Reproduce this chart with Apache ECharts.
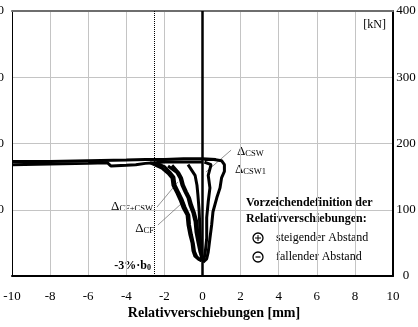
<!DOCTYPE html>
<html>
<head>
<meta charset="utf-8">
<script src="https://cdn.jsdelivr.net/npm/echarts@6/dist/echarts.min.js"></script>
<style>
  html, body { margin: 0; padding: 0; background: #fff; }
  #chart { width: 418px; height: 327px; }
</style>
</head>
<body>
<div id="chart"></div>
<script>
// Achsen
const xTicks = [-10, -8, -6, -4, -2, 0, 2, 4, 6, 8, 10];
const yTicks = [0, 100, 200, 300, 400];

// Messkurven [mm, kN]
const plateauUpper = [[-10, 173], [-8, 173], [-6, 174], [-4, 175], [-3, 176], [-2, 176], [-1, 177], [0, 177], [0.7, 176]];
const plateauLower = [[-10, 168], [-8, 169], [-6, 170], [-5, 171], [-4.8, 166], [-4, 167], [-3.5, 168], [-3, 170], [-2.5, 171], [-2, 172], [-1, 172], [0, 172]];
const cfCswDown = [[-2.76, 171], [-2.13, 163], [-1.81, 155], [-1.6, 148], [-1.55, 137], [-1.34, 125], [-1.18, 115], [-1.02, 103], [-0.81, 92], [-0.76, 77], [-0.66, 62], [-0.55, 50], [-0.5, 38], [-0.4, 30], [-0.2, 25], [-0.05, 23]];
const cfCswUp = [[-0.05, 23], [-0.3, 29], [-0.42, 37], [-0.48, 49], [-0.58, 62], [-0.68, 77], [-0.72, 92], [-0.92, 104], [-1.08, 116], [-1.25, 126], [-1.45, 138], [-1.5, 149], [-1.72, 157], [-2.0, 165], [-2.4, 170]];
const cfDown = [[-1.81, 166], [-1.34, 156], [-1.18, 148], [-1.08, 137], [-0.92, 127], [-0.76, 118], [-0.66, 107], [-0.5, 95], [-0.39, 82], [-0.34, 66], [-0.24, 51], [-0.13, 36], [-0.03, 26]];
const cfUp = [[-0.03, 26], [-0.05, 36], [-0.16, 51], [-0.25, 66], [-0.3, 82], [-0.42, 95], [-0.57, 107], [-0.68, 118], [-0.84, 127], [-1.0, 137], [-1.1, 148], [-1.25, 156], [-1.6, 167]];
const innerCurve = [[-0.76, 168], [-0.39, 152], [-0.29, 137], [-0.24, 122], [-0.18, 100], [-0.13, 69], [-0.08, 39], [0, 24]];
const csw1Up = [[0.03, 21], [0.22, 26], [0.3, 36], [0.39, 57], [0.48, 77], [0.55, 97], [0.75, 118], [0.92, 133], [1.0, 148], [1.15, 158], [1.15, 168], [1.0, 174], [0.6, 176], [0.1, 176]];
const csw1Down = [[0.1, 172], [0.45, 168], [0.3, 152], [0.39, 133], [0.3, 112], [0.22, 88], [0.22, 57], [0.13, 32], [0.03, 21]];

// Hilfslinien
const limitLine = -2.55;
const leaderCsw = [[0.18, 157], [1.5, 190]];
const leaderCfCsw = [[-2.39, 104], [-1.29, 142]];
const leaderCf = [[-2.34, 77], [-1.08, 110]];

const FONT = '"Liberation Serif", "Times New Roman", serif';

function curve (data) {
  return {
    type: 'line',
    data: data,
    showSymbol: false,
    silent: true,
    lineStyle: { color: '#000', width: 3 },
    z: 5
  };
}

function leader (pts) {
  return [{ coord: pts[0] }, { coord: pts[1] }];
}

const myChart = echarts.init(document.getElementById('chart'));

const rich = {
  d: { fontFamily: FONT, fontSize: 13, color: '#000' },
  s: { fontFamily: FONT, fontSize: 8.5, color: '#000', verticalAlign: 'bottom', padding: [4, 0, 0, 0] }
};

const option = {
  animation: false,
  backgroundColor: '#fff',
  grid: { left: 12, right: 25, top: 11, bottom: 51, show: false, containLabel: false, outerBoundsMode: 'none' },
  xAxis: [
    {
      type: 'value',
      min: xTicks[0],
      max: xTicks[xTicks.length - 1],
      interval: 2,
      position: 'bottom',
      axisLine: { show: true, onZero: false, lineStyle: { color: '#000', width: 2 } },
      axisTick: { show: false },
      axisLabel: { fontFamily: FONT, fontSize: 13, color: '#000', margin: 14 },
      splitLine: { show: true, lineStyle: { color: '#c4c4c4', width: 1 } }
    },
    {
      type: 'value',
      min: xTicks[0],
      max: xTicks[xTicks.length - 1],
      position: 'top',
      axisLine: { show: true, onZero: false, lineStyle: { color: '#6e6e6e', width: 2 } },
      axisTick: { show: false },
      axisLabel: { show: false },
      splitLine: { show: false }
    }
  ],
  yAxis: [
    {
      type: 'value',
      min: yTicks[0],
      max: yTicks[yTicks.length - 1],
      interval: 100,
      position: 'left',
      axisLine: { show: true, onZero: false, lineStyle: { color: '#000', width: 1 } },
      axisTick: { show: false },
      axisLabel: {
        fontFamily: FONT, fontSize: 13, color: '#000', margin: 8,
        formatter: function (v) { return v === 0 ? '' : String(v); }
      },
      splitLine: { show: true, lineStyle: { color: '#c4c4c4', width: 1 } }
    },
    {
      type: 'value',
      min: yTicks[0],
      max: yTicks[yTicks.length - 1],
      interval: 100,
      position: 'right',
      axisLine: { show: true, onZero: false, lineStyle: { color: '#000', width: 2 } },
      axisTick: { show: false },
      axisLabel: { fontFamily: FONT, fontSize: 13, color: '#000', margin: 13, align: 'center' },
      splitLine: { show: false }
    }
  ],
  series: [
    {
      type: 'line',
      data: [],
      silent: true,
      markLine: {
        symbol: ['none', 'none'],
        silent: true,
        label: { show: false },
        data: [
          { xAxis: 0, lineStyle: { color: '#000', width: 2.5, type: 'solid' } },
          { xAxis: limitLine, lineStyle: { color: '#000', width: 1, type: [1, 1] } },
          leader(leaderCsw),
          leader(leaderCfCsw),
          leader(leaderCf)
        ],
        lineStyle: { color: '#666', width: 0.7, type: 'solid' }
      },
      z: 4
    },
    curve(plateauUpper),
    curve(plateauLower),
    curve(cfCswDown),
    curve(cfCswUp),
    curve(cfDown),
    curve(cfUp),
    curve(innerCurve),
    curve(csw1Up),
    curve(csw1Down)
  ],
  graphic: [
    { type: 'text', x: 214, y: 313, style: { text: 'Relativverschiebungen [mm]', fontFamily: FONT, fontSize: 14, fontWeight: 'bold', fill: '#000', align: 'center', verticalAlign: 'middle' } },
    { type: 'text', x: 386, y: 25, style: { text: '[kN]', fontFamily: FONT, fontSize: 12, fill: '#000', align: 'right', verticalAlign: 'middle' } },
    { type: 'text', x: 237, y: 152, style: { text: '{d|Δ}{s|CSW}', rich: rich, align: 'left', verticalAlign: 'middle' } },
    { type: 'text', x: 235, y: 170, style: { text: '{d|Δ}{s|CSW1}', rich: rich, align: 'left', verticalAlign: 'middle' } },
    { type: 'text', x: 153, y: 207, style: { text: '{d|Δ}{s|CF+CSW}', rich: rich, align: 'right', verticalAlign: 'middle' } },
    { type: 'text', x: 154, y: 229, style: { text: '{d|Δ}{s|CF}', rich: rich, align: 'right', verticalAlign: 'middle' } },
    {
      type: 'text', x: 151, y: 266,
      style: {
        text: '{t|-3%·b}{s|0}', align: 'right', verticalAlign: 'middle',
        rich: {
          t: { fontFamily: FONT, fontSize: 12, fontWeight: 'bold', color: '#000' },
          s: { fontFamily: FONT, fontSize: 8, fontWeight: 'bold', color: '#000', verticalAlign: 'bottom', padding: [4, 0, 0, 0] }
        }
      }
    },
    { type: 'text', x: 246, y: 203, style: { text: 'Vorzeichendefinition der', fontFamily: FONT, fontSize: 12, fontWeight: 'bold', fill: '#000', verticalAlign: 'middle' } },
    { type: 'text', x: 246, y: 219, style: { text: 'Relativverschiebungen:', fontFamily: FONT, fontSize: 12, fontWeight: 'bold', fill: '#000', verticalAlign: 'middle' } },
    { type: 'circle', shape: { cx: 258, cy: 238, r: 5 }, style: { fill: 'none', stroke: '#000', lineWidth: 1.3 } },
    { type: 'line', shape: { x1: 255, y1: 238, x2: 261, y2: 238 }, style: { stroke: '#000', lineWidth: 1 } },
    { type: 'line', shape: { x1: 258, y1: 235, x2: 258, y2: 241 }, style: { stroke: '#000', lineWidth: 1 } },
    { type: 'text', x: 276, y: 238, style: { text: 'steigender Abstand', fontFamily: FONT, fontSize: 12, fill: '#000', verticalAlign: 'middle' } },
    { type: 'circle', shape: { cx: 258, cy: 257, r: 5 }, style: { fill: 'none', stroke: '#000', lineWidth: 1.3 } },
    { type: 'line', shape: { x1: 255.5, y1: 257, x2: 260.5, y2: 257 }, style: { stroke: '#000', lineWidth: 1.2 } },
    { type: 'text', x: 276, y: 257, style: { text: 'fallender Abstand', fontFamily: FONT, fontSize: 12, fill: '#000', verticalAlign: 'middle' } }
  ]
};

myChart.setOption(option);
window.addEventListener('resize', function () {
  myChart.resize();
});
</script>
</body>
</html>
